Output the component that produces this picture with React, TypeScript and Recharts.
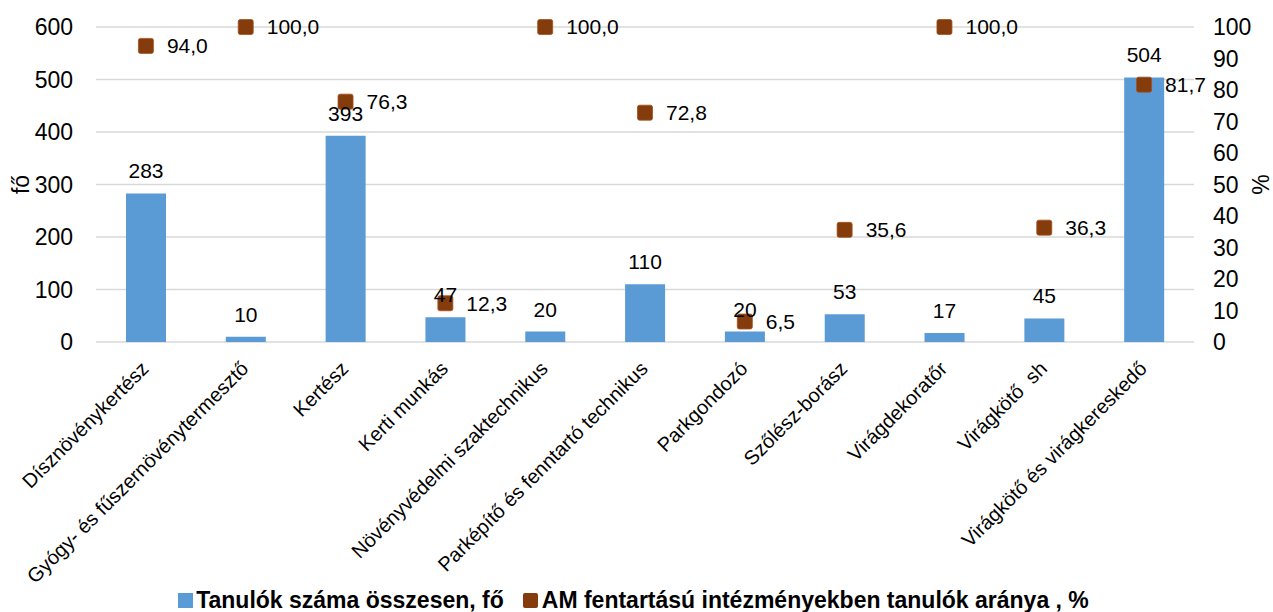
import React from 'react';
import {
  ComposedChart,
  Bar,
  Line,
  XAxis,
  YAxis,
  CartesianGrid,
  LabelList,
  Legend,
  Label,
} from 'recharts';

const categories = [
  'Dísznövénykertész',
  'Gyógy- és fűszernövénytermesztő',
  'Kertész',
  'Kerti munkás',
  'Növényvédelmi szaktechnikus',
  'Parképítő és fenntartó technikus',
  'Parkgondozó',
  'Szőlész-borász',
  'Virágdekoratőr',
  'Virágkötő  sh',
  'Virágkötő és virágkereskedő',
];

const students = [283, 10, 393, 47, 20, 110, 20, 53, 17, 45, 504];
const percents = [94.0, 100.0, 76.3, 12.3, 100.0, 72.8, 6.5, 35.6, 100.0, 36.3, 81.7];

const leftTicks = [0, 100, 200, 300, 400, 500, 600];
const rightTicks = [0, 10, 20, 30, 40, 50, 60, 70, 80, 90, 100];

const seriesNames = ['Tanulók száma összesen, fő', 'AM fentartású intézményekben tanulók aránya , %'];
const leftTitle = 'fő';
const rightTitle = '%';

const BAR_COLOR = '#5B9BD5';
const MARKER_COLOR = '#843C0C';
const GRID_COLOR = '#D9D9D9';
const FONT = '"Liberation Sans", Arial, sans-serif';

const data = categories.map((name, i) => ({
  name,
  students: students[i],
  pct: percents[i],
}));

const fmtPct = (v: any) => Number(v).toFixed(1).replace('.', ',');

const CategoryTick = (props: any) => {
  const { x, y, payload } = props;
  return (
    <text
      transform={`translate(${x + 4},${y + 28}) rotate(-45)`}
      textAnchor="end"
      fontSize={20}
      fill="#000"
      style={{ whiteSpace: 'pre', fontFamily: FONT }}
    >
      {payload.value}
    </text>
  );
};

const SquareDot = (props: any) => {
  const { cx, cy, index } = props;
  if (cx == null || cy == null) return <g key={`d-${index}`} />;
  return (
    <rect
      key={`d-${index}`}
      x={cx - 7.5}
      y={cy - 7.5}
      width={15}
      height={15}
      rx={2}
      ry={2}
      fill={MARKER_COLOR}
      stroke="#A3501C"
      strokeWidth={0.8}
    />
  );
};

const renderLegend = () => (
  <div
    style={{
      height: 30,
      display: 'flex',
      alignItems: 'center',
      justifyContent: 'center',
      fontFamily: FONT,
      fontWeight: 'bold',
      fontSize: 23,
      color: '#000',
      whiteSpace: 'nowrap',
      paddingRight: 6,
    }}
  >
    <span style={{ width: 15, height: 15, background: BAR_COLOR, display: 'inline-block', marginRight: 3 }} />
    <span>{seriesNames[0]}</span>
    <span
      style={{
        width: 15,
        height: 15,
        background: MARKER_COLOR,
        borderRadius: 2,
        display: 'inline-block',
        marginLeft: 19,
        marginRight: 4,
      }}
    />
    <span>{seriesNames[1]}</span>
  </div>
);

const LeftTitle = (props: any) => {
  const vb = props.viewBox || {};
  const cx = 21;
  const cy = (vb.y ?? 27) + (vb.height ?? 315) / 2;
  return (
    <text
      x={cx}
      y={cy}
      transform={`rotate(-90, ${cx}, ${cy})`}
      textAnchor="middle"
      dominantBaseline="central"
      fontSize={23}
      fill="#000"
      style={{ fontFamily: FONT }}
    >
      {leftTitle}
    </text>
  );
};

const RightTitle = (props: any) => {
  const vb = props.viewBox || {};
  const cx = 1261;
  const cy = (vb.y ?? 27) + (vb.height ?? 315) / 2;
  return (
    <text
      x={cx}
      y={cy}
      transform={`rotate(-90, ${cx}, ${cy})`}
      textAnchor="middle"
      dominantBaseline="central"
      fontSize={23}
      fill="#000"
      style={{ fontFamily: FONT }}
    >
      {rightTitle}
    </text>
  );
};

export default function App() {
  return (
    <div
      style={{
        position: 'absolute',
        left: 0,
        top: 0,
        width: 1273,
        height: 612,
        background: '#fff',
        fontFamily: FONT,
      }}
    >
      <ComposedChart
        width={1273}
        height={612}
        data={data}
        margin={{ top: 27, right: 0, left: 0, bottom: 0 }}
        barGap={-40}
      >
        <CartesianGrid yAxisId="left" vertical={false} stroke={GRID_COLOR} strokeWidth={1.6} />
        <XAxis
          dataKey="name"
          interval={0}
          tickLine={false}
          axisLine={false}
          tickSize={0}
          tickMargin={0}
          height={240}
          tick={<CategoryTick />}
        />
        <YAxis
          yAxisId="left"
          domain={[0, 600]}
          ticks={leftTicks}
          interval={0}
          width={96}
          tickLine={false}
          axisLine={false}
          tickSize={0}
          tickMargin={23}
          tick={{ fontSize: 23, fill: '#000', fontFamily: FONT }}
        >
          <Label content={<LeftTitle />} />
        </YAxis>
        <YAxis
          yAxisId="right"
          orientation="right"
          domain={[0, 100]}
          ticks={rightTicks}
          interval={0}
          width={79}
          tickLine={false}
          axisLine={false}
          tickSize={0}
          tickMargin={19}
          tick={{ fontSize: 23, fill: '#000', fontFamily: FONT, textAnchor: 'start' }}
        >
          <Label content={<RightTitle />} />
        </YAxis>
        <Legend
          verticalAlign="bottom"
          content={renderLegend}
          wrapperStyle={{ top: 585, bottom: 'auto', left: 0, width: 1273 }}
        />
        <Bar yAxisId="left" dataKey="students" fill={BAR_COLOR} barSize={40} isAnimationActive={false} />
        <Line
          yAxisId="right"
          dataKey="pct"
          stroke="none"
          dot={SquareDot}
          activeDot={false}
          isAnimationActive={false}
        >
          <LabelList
            dataKey="pct"
            position="right"
            offset={21}
            formatter={fmtPct}
            style={{ fontSize: 21, fill: '#000', fontFamily: FONT }}
          />
        </Line>
        <Bar yAxisId="left" dataKey="students" fill="transparent" barSize={40} isAnimationActive={false}>
          <LabelList
            dataKey="students"
            position="top"
            offset={15}
            style={{ fontSize: 21, fill: '#000', fontFamily: FONT }}
          />
        </Bar>
      </ComposedChart>
    </div>
  );
}
